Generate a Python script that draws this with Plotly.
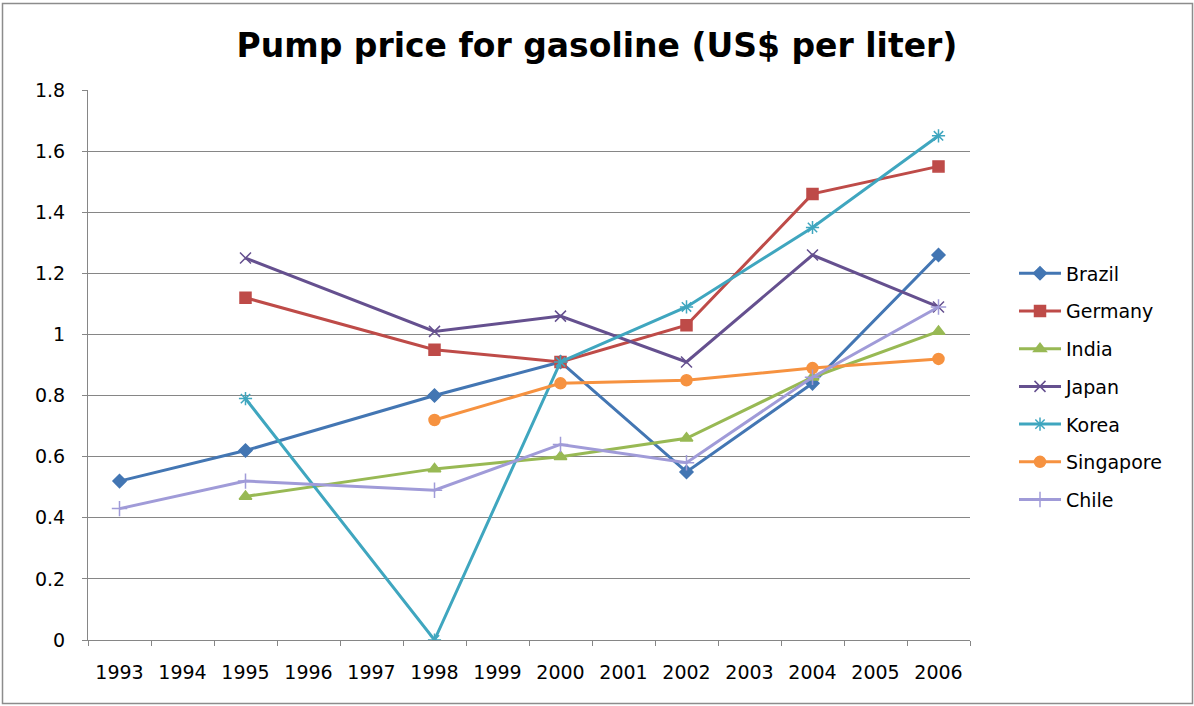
import plotly.graph_objects as go

# Category axis: every year from 1993 to 2006
years = [str(y) for y in range(1993, 2007)]

# Survey years for each country
brazil_years = ["1993", "1995", "1998", "2000", "2002", "2004", "2006"]
brazil = [0.52, 0.62, 0.80, 0.91, 0.55, 0.84, 1.26]

germany_years = ["1995", "1998", "2000", "2002", "2004", "2006"]
germany = [1.12, 0.95, 0.91, 1.03, 1.46, 1.55]

india_years = ["1995", "1998", "2000", "2002", "2004", "2006"]
india = [0.47, 0.56, 0.60, 0.66, 0.86, 1.01]

japan_years = ["1995", "1998", "2000", "2002", "2004", "2006"]
japan = [1.25, 1.01, 1.06, 0.91, 1.26, 1.09]

korea_years = ["1995", "1998", "2000", "2002", "2004", "2006"]
korea = [0.79, 0.0, 0.91, 1.09, 1.35, 1.65]

singapore_years = ["1998", "2000", "2002", "2004", "2006"]
singapore = [0.72, 0.84, 0.85, 0.89, 0.92]

chile_years = ["1993", "1995", "1998", "2000", "2002", "2004", "2006"]
chile = [0.43, 0.52, 0.49, 0.64, 0.58, 0.86, 1.09]

y_ticks = [0, 0.2, 0.4, 0.6, 0.8, 1, 1.2, 1.4, 1.6, 1.8]
y_tick_text = ["0", "0.2", "0.4", "0.6", "0.8", "1", "1.2", "1.4", "1.6", "1.8"]

series = [
    ("Brazil", brazil_years, brazil, "#4376B3", "diamond", 10),
    ("Germany", germany_years, germany, "#BE4B48", "square", 11),
    ("India", india_years, india, "#98B954", "triangle-up", 11),
    ("Japan", japan_years, japan, "#65508F", "x-thin-open", 11),
    ("Korea", korea_years, korea, "#3FA6BF", "asterisk-open", 11),
    ("Singapore", singapore_years, singapore, "#F69240", "circle", 11),
    ("Chile", chile_years, chile, "#A09BD8", "cross-thin-open", 11),
]

fig = go.Figure()
for name, xs, ys, color, symbol, size in series:
    fig.add_trace(go.Scatter(
        x=xs, y=ys, name=name, mode="lines+markers",
        legendgroup=name,
        line=dict(color=color, width=3),
        marker=dict(symbol=symbol, size=size, color=color,
                    line=dict(color=color, width=1.5)),
    ))

fig.update_layout(
    width=1194, height=706,
    margin=dict(l=88, r=224, t=90, b=66),
    paper_bgcolor="white", plot_bgcolor="white",
    font=dict(family="DejaVu Sans, sans-serif", size=19, color="#000000"),
    title=dict(
        text="<b>Pump price for gasoline (US$ per liter)</b>",
        x=0.5, xanchor="center", xref="container",
        y=0.936, yanchor="middle",
        font=dict(family="DejaVu Sans, sans-serif", size=33, color="#000000"),
    ),
    xaxis=dict(
        type="category", categoryorder="array", categoryarray=years,
        tickvals=years, ticktext=years,
        tickson="boundaries", ticks="outside", ticklen=5, tickcolor="#868686",
        showgrid=False, showline=True, linecolor="#868686", linewidth=1,
        tickfont=dict(size=19), ticklabelstandoff=15, range=[-0.5, 13.5],
    ),
    yaxis=dict(
        range=[0, 1.8], tickvals=y_ticks, ticktext=y_tick_text,
        ticks="outside", ticklen=5, tickcolor="#868686",
        showgrid=True, gridcolor="#868686", gridwidth=1,
        showline=True, linecolor="#868686", linewidth=1,
        zeroline=False, tickfont=dict(size=19), ticklabelstandoff=13,
    ),
    legend=dict(
        x=(1014 - 88) / 882, xanchor="left", y=0.461, yanchor="middle",
        font=dict(size=19), tracegroupgap=10, itemwidth=42,
        bgcolor="rgba(0,0,0,0)",
    ),
    showlegend=True,
)

# Chart frame around the whole figure
fig.add_shape(
    type="rect", xref="paper", yref="paper",
    x0=(2.5 - 88) / 882, x1=(1192.5 - 88) / 882,
    y0=(640 - 703.5) / 550, y1=(640 - 3.5) / 550,
    line=dict(color="#8C8C8C", width=1.5), fillcolor="rgba(0,0,0,0)",
    layer="below",
)

fig.write_html("out.html")
